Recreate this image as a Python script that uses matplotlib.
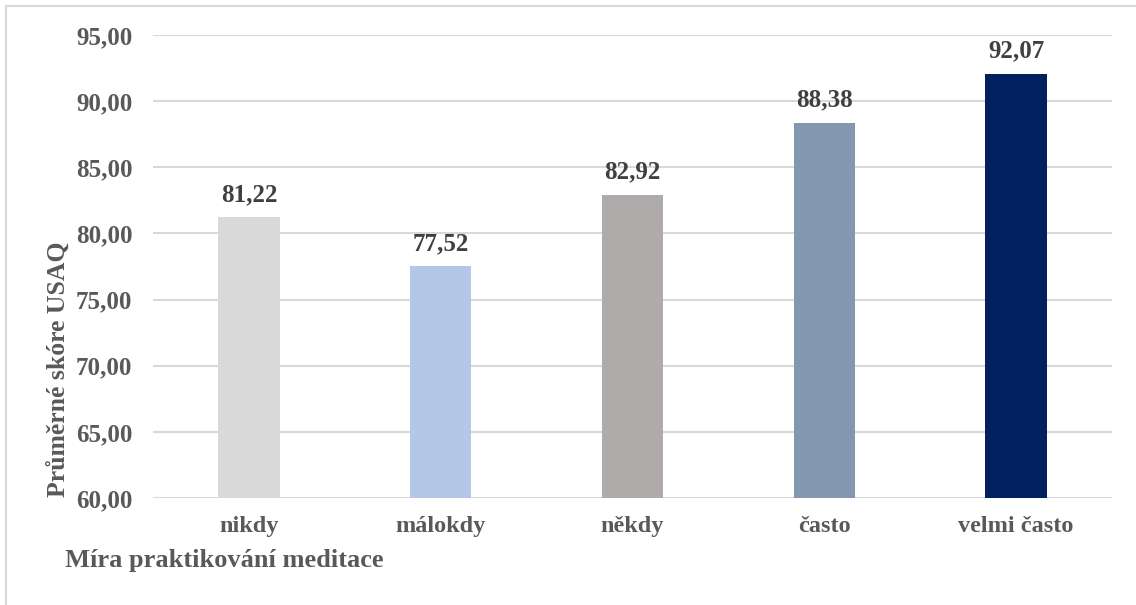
import matplotlib
matplotlib.use("Agg")
import matplotlib.pyplot as plt
from matplotlib.lines import Line2D

categories = ["nikdy", "málokdy", "někdy", "často", "velmi často"]
scores = [81.22, 77.52, 82.92, 88.38, 92.07]
bar_colors = ["#D9D9D9", "#B4C7E7", "#AFABAB", "#8497B0", "#002060"]
y_ticks = [60, 65, 70, 75, 80, 85, 90, 95]
y_label = "Průměrné skóre USAQ"
x_label = "Míra praktikování meditace"

plt.rcParams["font.family"] = ["Liberation Serif", "DejaVu Serif"]
plt.rcParams["font.weight"] = "bold"

W, H = 1136, 605
fig = plt.figure(figsize=(W / 100, H / 100), dpi=100)
ax = fig.add_axes([153 / W, 1 - 498 / H, (1112 - 153) / W, (498 - 35) / H])

x = list(range(len(categories)))
ax.bar(x, [s - 60 for s in scores], bottom=60, width=0.32,
       color=bar_colors, zorder=3)

ax.set_xlim(-0.5, len(categories) - 0.5)
ax.set_ylim(60, 95)
ax.set_yticks(y_ticks)
ax.set_yticklabels([f"{v:.2f}".replace(".", ",") for v in y_ticks])
ax.set_xticks(x)
ax.set_xticklabels(categories)

ax.grid(axis="y", color="#D9D9D9", linewidth=1.5, zorder=0)
for s in ax.spines.values():
    s.set_visible(False)
ax.tick_params(axis="both", length=0, labelcolor="#595959")
ax.tick_params(axis="y", pad=15, labelsize=18)
ax.tick_params(axis="x", pad=13, labelsize=17.5)
for lbl in ax.get_xticklabels() + ax.get_yticklabels():
    lbl.set_fontweight("bold")

for xi, s in zip(x, scores):
    ax.annotate(f"{s:.2f}".replace(".", ","), (xi, s), xytext=(0, 8),
                textcoords="offset points", ha="center", va="bottom",
                fontsize=18, fontweight="bold", color="#404040")

fig.text(58 / W, 1 - 369 / H, y_label, rotation=90, ha="center", va="center",
         fontsize=18.5, fontweight="bold", color="#595959")
fig.text(65 / W, 1 - 560 / H, x_label, ha="left", va="center",
         fontsize=19, fontweight="bold", color="#595959")

# chart frame (left and top edges)
fig.add_artist(Line2D([6 / W, 6 / W], [0, 1 - 6 / H], transform=fig.transFigure,
                      color="#D9D9D9", linewidth=1.5))
fig.add_artist(Line2D([6 / W, 1], [1 - 6 / H, 1 - 6 / H], transform=fig.transFigure,
                      color="#D9D9D9", linewidth=1.5))

fig.savefig("out.png", dpi=100, facecolor="white")
